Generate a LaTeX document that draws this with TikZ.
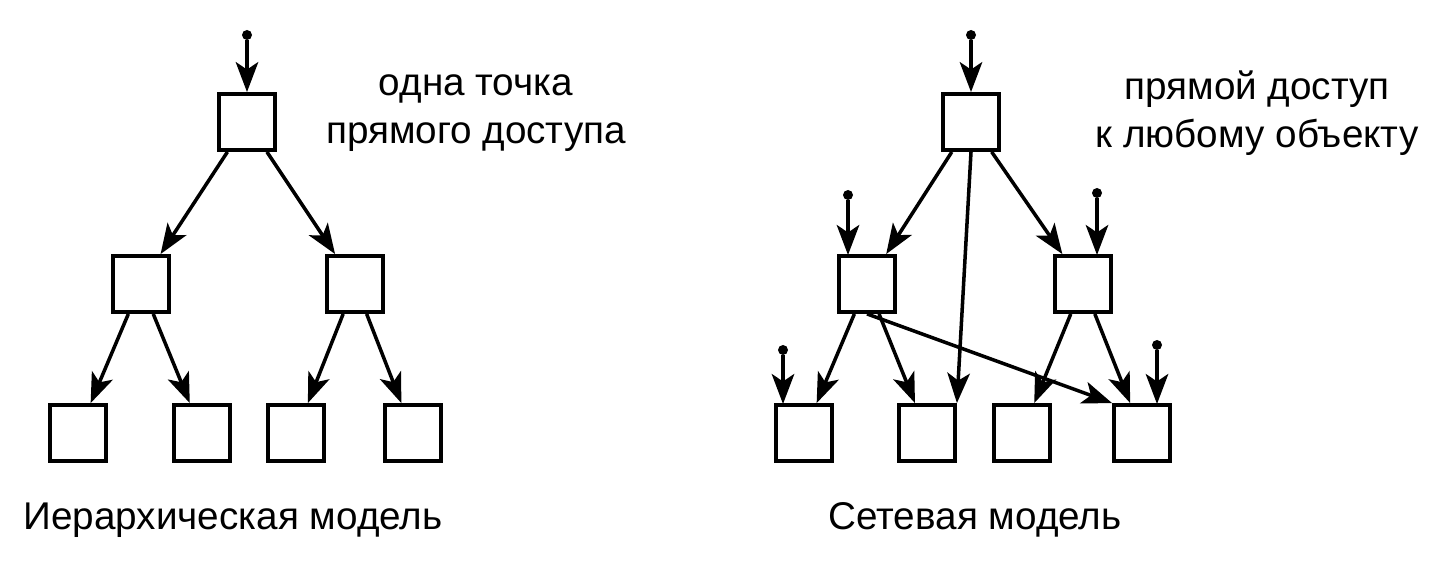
\documentclass[tikz,border=0pt]{standalone}
\usepackage{fontspec}
\setmainfont{Liberation Sans}
\usetikzlibrary{arrows.meta}
\begin{document}
\begin{tikzpicture}[x=0.02cm,y=-0.02cm,
  box/.style={draw,line width=2.2pt,minimum size=1.12cm,inner sep=0},
  ar/.style={line width=2pt,-{Stealth[length=0.6cm,width=0.45cm,inset=0.15cm]}},
  dot/.style={circle,fill,inner sep=0,minimum size=0.2cm},
  lab/.style={font=\fontsize{22}{27}\selectfont,align=center}]
\useasboundingbox (0,0) rectangle (1446,580);
% left
\node[box] (a) at (247,122) {};
\node[box] (b1) at (141,284) {};
\node[box] (b2) at (355,284) {};
\node[box] (c1) at (78,433) {};
\node[box] (c2) at (202,433) {};
\node[box] (c3) at (296,433) {};
\node[box] (c4) at (413,433) {};
\node[dot] (ea) at (247,35) {};
\draw[ar] (ea) -- (a);
\draw[ar] (a) -- (b1); \draw[ar] (a) -- (b2);
\draw[ar] (b1) -- (c1); \draw[ar] (b1) -- (c2);
\draw[ar] (b2) -- (c3); \draw[ar] (b2) -- (c4);
\node[lab] (t1) at (476,113) {одна точка\\прямого доступа};
\node[lab] (t2) at (233,520) {Иерархическая модель};
% right
\node[box] (A) at (971,122) {};
\node[box] (B1) at (867,284) {};
\node[box] (B2) at (1083,284) {};
\node[box] (C1) at (804,433) {};
\node[box] (C2) at (927,433) {};
\node[box] (C3) at (1022,433) {};
\node[box] (C4) at (1142,433) {};
\node[dot] (eA) at (971,35) {};
\node[dot] (eB1) at (848,195) {};
\node[dot] (eB2) at (1097,193) {};
\node[dot] (eC1) at (783,350) {};
\node[dot] (eC4) at (1157,345) {};
\coordinate (pB1) at (848,255);
\coordinate (pB2) at (1097,255);
\coordinate (pC1) at (783,404);
\coordinate (pC4) at (1157,404);
\draw[ar] (eA) -- (A);
\draw[ar] (eB1) -- (pB1);
\draw[ar] (eB2) -- (pB2);
\draw[ar] (eC1) -- (pC1);
\draw[ar] (eC4) -- (pC4);
\draw[ar] (A) -- (B1); \draw[ar] (A) -- (B2);
\draw[ar] (A.south) -- (C2.north east);
\draw[ar] (B1) -- (C1); \draw[ar] (B1) -- (C2);
\draw[ar] (B1.south) -- (C4.north west);
\draw[ar] (B2) -- (C3); \draw[ar] (B2) -- (C4);
\node[lab] (t3) at (1257,113) {прямой доступ\\к любому объекту};
\node[lab] (t4) at (975,520) {Сетевая модель};
\end{tikzpicture}
\end{document}
